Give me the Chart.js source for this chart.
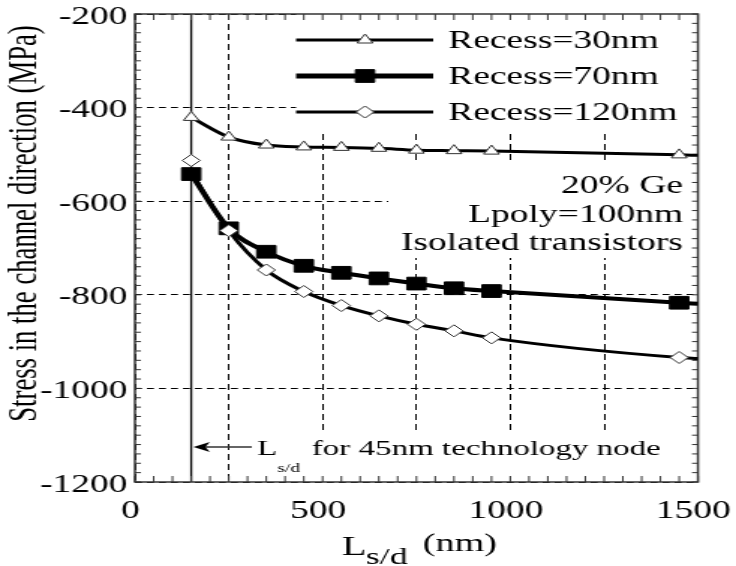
<!DOCTYPE html>
<html>
<head>
<meta charset="utf-8">
<script src="https://cdn.jsdelivr.net/npm/chart.js@4.4.1/dist/chart.umd.min.js"></script>
<style>
  html, body { margin: 0; padding: 0; background: #fff; overflow: hidden; }
  /* the original figure is stretched sideways, so draw narrow and stretch the whole chart */
  #wrap { width: 491px; height: 566px; transform: scale(1.499, 1); transform-origin: 0 0; }
</style>
</head>
<body>
<div id="wrap"><canvas id="stressChart" width="491" height="566"></canvas></div>
<script>
// Ls/d values (nm) of the simulated points, last one is where the fitted curves end
const lsd = [150, 250, 350, 450, 550, 650, 750, 850, 950, 1450, 1500];
const recess30 = [-421, -463, -480, -484, -485, -487, -491, -492, -493, -501, -502];
const recess70 = [-542, -658, -708, -738, -753, -765, -776, -786, -792, -817, -819];
const recess120 = [-513, -663, -747, -793, -823, -845, -863, -877, -892, -934, -936];
// the 120nm fitted curve starts lower than its first marker
const recess120Curve = [-538, -663, -747, -793, -823, -845, -863, -877, -892, -934, -936];
const seriesLabels = ['Recess=30nm', 'Recess=70nm', 'Recess=120nm'];
const xTicks = [0, 500, 1000, 1500];
const yTicks = [-200, -400, -600, -800, -1000, -1200];
const notes = ['20% Ge', 'Lpoly=100nm', 'Isolated transistors'];
const nodeLsd = 150; // Ls/d of the 45nm technology node

const serif = '"Liberation Serif", "Times New Roman", serif';
const toPoints = arr => lsd.map((x, i) => ({ x: x, y: arr[i] }));
// no marker on the curve end point
const markerSize = r => c => (c.dataIndex === lsd.length - 1 ? 0 : r);

function line(ctx, x1, y1, x2, y2) {
  ctx.beginPath();
  ctx.moveTo(x1, y1);
  ctx.lineTo(x2, y2);
  ctx.stroke();
}

// legend rows: [dataset giving the line, dataset giving the marker]
const legendRows = [[0, 0], [1, 1], [2, 3]];

// legend, notes, frame with minor ticks, axis titles
const overlay = {
  id: 'overlay',
  beforeDatasetsDraw(chart) {
    const { ctx, chartArea: a, scales: { x, y } } = chart;
    const sets = chart.data.datasets;
    ctx.save();

    // white boxes that hide the grid behind the texts
    ctx.fillStyle = '#fff';
    ctx.fillRect(197.5, a.top, a.right - 197.5, 119);
    ctx.fillRect(259, 164, a.right - 259, 94);
    ctx.fillRect(169, 430, 279, a.bottom - 430);

    // vertical line at the 45nm node Ls/d
    ctx.strokeStyle = '#000';
    ctx.lineWidth = 1.3;
    const nx = x.getPixelForValue(nodeLsd);
    line(ctx, nx, a.top, nx, a.bottom);

    // legend
    ctx.font = '25px ' + serif;
    ctx.textBaseline = 'middle';
    ctx.textAlign = 'left';
    legendRows.forEach(([li, mi], i) => {
      const ly = 40 + 36 * i;
      const ds = sets[li];
      const mk = sets[mi];
      ctx.strokeStyle = '#000';
      ctx.lineWidth = ds.borderWidth + (i === 1 ? 1 : 0);
      line(ctx, 197.5, ly, 289, ly);
      ctx.fillStyle = mk.pointBackgroundColor;
      ctx.strokeStyle = mk.pointBorderColor;
      ctx.lineWidth = mk.pointBorderWidth;
      Chart.helpers.drawPoint(ctx, {
        pointStyle: mk.pointStyle, rotation: 0, radius: mk.legendRadius, borderWidth: mk.pointBorderWidth
      }, 243.5, ly);
      ctx.fillStyle = '#000';
      ctx.fillText(seriesLabels[i], 299, ly + 1);
    });

    // notes on the right
    ctx.textBaseline = 'alphabetic';
    ctx.textAlign = 'right';
    [193, 222, 250].forEach((by, i) => ctx.fillText(notes[i], 455.6, by));

    // arrow and node label at the bottom
    ctx.textAlign = 'left';
    ctx.lineWidth = 1.5;
    line(ctx, 168, 447, 136, 447);
    ctx.beginPath();
    ctx.moveTo(129, 447);
    ctx.lineTo(140, 442);
    ctx.lineTo(137, 447);
    ctx.lineTo(140, 452);
    ctx.closePath();
    ctx.fill();
    ctx.font = '22px ' + serif;
    ctx.fillText('L', 171.5, 455);
    ctx.font = '13px ' + serif;
    ctx.fillText('s/d', 185, 472);
    ctx.font = '22px ' + serif;
    ctx.fillText('for 45nm technology node', 208, 455);

    // frame and inward minor ticks
    ctx.lineWidth = 1;
    for (let v = xTicks[0]; v <= xTicks[xTicks.length - 1]; v += 50) {
      const px = x.getPixelForValue(v);
      line(ctx, px, a.bottom, px, a.bottom - 6);
      line(ctx, px, a.top, px, a.top + 6);
    }
    for (let v = yTicks[yTicks.length - 1]; v <= yTicks[0]; v += 20) {
      const py = y.getPixelForValue(v);
      line(ctx, a.left, py, a.left + 4, py);
      line(ctx, a.right, py, a.right - 4, py);
    }
    ctx.lineWidth = 1.5;
    ctx.strokeRect(a.left, a.top, a.right - a.left, a.bottom - a.top);

    // x title: L s/d (nm)
    ctx.fillStyle = '#000';
    ctx.font = '27px ' + serif;
    ctx.fillText('L', 228, 555);
    ctx.font = '24px ' + serif;
    ctx.fillText('s/d', 244, 564);
    ctx.font = '25.5px ' + serif;
    ctx.fillText('(nm)', 282, 551);

    // y title
    ctx.translate(24, 223.5);
    ctx.rotate(-Math.PI / 2);
    ctx.textAlign = 'center';
    ctx.font = '26.7px ' + serif;
    ctx.fillText('Stress in the channel direction (MPa)', 0, 0);

    ctx.restore();
  }
};

const ctx = document.getElementById('stressChart').getContext('2d');

const stressChart = new Chart(ctx, {
  type: 'line',
  data: {
    datasets: [{
      label: seriesLabels[0],
      data: toPoints(recess30),
      borderColor: '#000',
      borderWidth: 3,
      pointStyle: 'triangle',
      pointRadius: markerSize(6),
      legendRadius: 6,
      pointBackgroundColor: '#fff',
      pointBorderColor: '#333',
      pointBorderWidth: 1,
      cubicInterpolationMode: 'monotone'
    }, {
      label: seriesLabels[1],
      data: toPoints(recess70),
      borderColor: '#000',
      borderWidth: 4,
      pointStyle: 'rect',
      pointRadius: markerSize(9),
      legendRadius: 9,
      pointBackgroundColor: '#000',
      pointBorderColor: '#000',
      pointBorderWidth: 1,
      cubicInterpolationMode: 'monotone'
    }, {
      label: seriesLabels[2] + ' fit',
      data: toPoints(recess120Curve),
      borderColor: '#000',
      borderWidth: 3,
      pointRadius: 0,
      cubicInterpolationMode: 'monotone'
    }, {
      label: seriesLabels[2],
      data: toPoints(recess120),
      order: -1, // markers on top of the curves
      showLine: false,
      pointStyle: 'rectRot',
      pointRadius: markerSize(6),
      legendRadius: 6,
      pointBackgroundColor: '#fff',
      pointBorderColor: '#333',
      pointBorderWidth: 1
    }]
  },
  options: {
    responsive: false,
    animation: false,
    devicePixelRatio: 1,
    layout: { padding: { top: 14, right: 25.4, left: 0, bottom: 0 } },
    plugins: {
      legend: { display: false },
      tooltip: { enabled: false }
    },
    scales: {
      x: {
        type: 'linear',
        min: xTicks[0],
        max: xTicks[xTicks.length - 1],
        ticks: {
          stepSize: 250,
          autoSkip: false,
          maxRotation: 0,
          color: '#000',
          font: { family: serif, size: 25 },
          padding: 14,
          labelOffset: -3,
          callback: v => (xTicks.includes(v) ? String(v) : '')
        },
        grid: { color: '#000', lineWidth: 1, drawTicks: false },
        border: { display: false, dash: [6, 4] },
        afterFit: s => { s.height = 84; s.paddingLeft = 0; s.paddingRight = 0; }
      },
      y: {
        min: yTicks[yTicks.length - 1],
        max: yTicks[0],
        ticks: {
          stepSize: 200,
          color: '#000',
          font: { family: serif, size: 25 },
          padding: 5,
          labelOffset: 3,
          callback: v => String(v)
        },
        grid: { color: '#000', lineWidth: 1, drawTicks: false },
        border: { display: false, dash: [4.7, 3.3] },
        afterFit: s => { s.width = 90; s.paddingTop = 0; s.paddingBottom = 0; }
      }
    }
  },
  plugins: [overlay]
});
</script>
</body>
</html>
